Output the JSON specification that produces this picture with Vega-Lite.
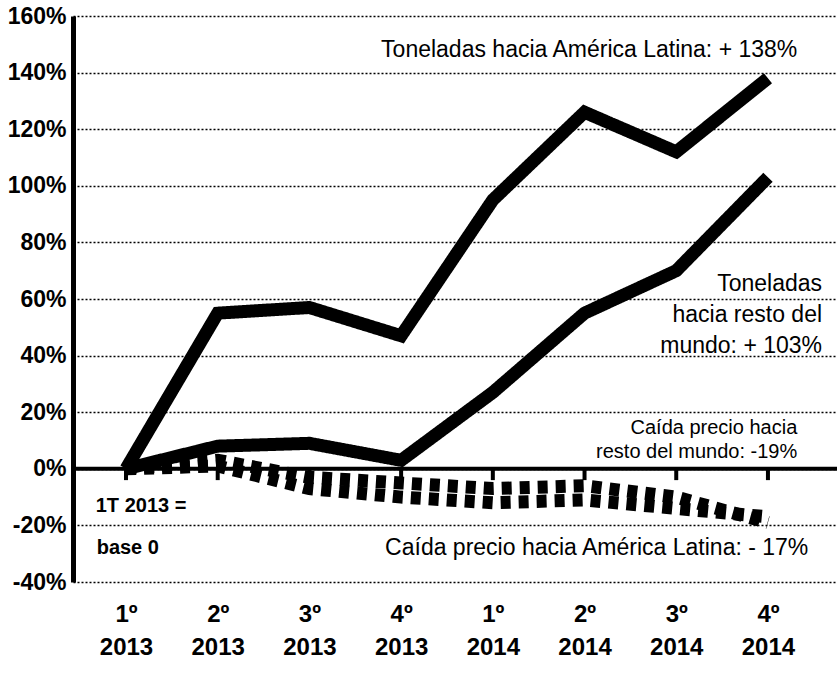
{
  "$schema": "https://vega.github.io/schema/vega-lite/v6.json",
  "width": 764,
  "height": 566,
  "autosize": {"type": "none"},
  "padding": {"left": 73, "top": 16, "right": 0, "bottom": 95},
  "background": "white",
  "config": {
    "view": {"stroke": null},
    "font": "Liberation Sans"
  },
  "datasets": {
    "series": [
      {"q": 0, "serie": "Toneladas hacia América Latina", "tipo": "solid", "valor": 0},
      {"q": 1, "serie": "Toneladas hacia América Latina", "tipo": "solid", "valor": 55},
      {"q": 2, "serie": "Toneladas hacia América Latina", "tipo": "solid", "valor": 57},
      {"q": 3, "serie": "Toneladas hacia América Latina", "tipo": "solid", "valor": 47},
      {"q": 4, "serie": "Toneladas hacia América Latina", "tipo": "solid", "valor": 95},
      {"q": 5, "serie": "Toneladas hacia América Latina", "tipo": "solid", "valor": 126},
      {"q": 6, "serie": "Toneladas hacia América Latina", "tipo": "solid", "valor": 112},
      {"q": 7, "serie": "Toneladas hacia América Latina", "tipo": "solid", "valor": 138},
      {"q": 0, "serie": "Toneladas hacia resto del mundo", "tipo": "solid", "valor": 0},
      {"q": 1, "serie": "Toneladas hacia resto del mundo", "tipo": "solid", "valor": 8},
      {"q": 2, "serie": "Toneladas hacia resto del mundo", "tipo": "solid", "valor": 9},
      {"q": 3, "serie": "Toneladas hacia resto del mundo", "tipo": "solid", "valor": 3},
      {"q": 4, "serie": "Toneladas hacia resto del mundo", "tipo": "solid", "valor": 27},
      {"q": 5, "serie": "Toneladas hacia resto del mundo", "tipo": "solid", "valor": 55},
      {"q": 6, "serie": "Toneladas hacia resto del mundo", "tipo": "solid", "valor": 70},
      {"q": 7, "serie": "Toneladas hacia resto del mundo", "tipo": "solid", "valor": 103},
      {"q": 0, "serie": "Precio hacia resto del mundo", "tipo": "dashed", "valor": 0},
      {"q": 1, "serie": "Precio hacia resto del mundo", "tipo": "dashed", "valor": 3},
      {"q": 2, "serie": "Precio hacia resto del mundo", "tipo": "dashed", "valor": -3},
      {"q": 3, "serie": "Precio hacia resto del mundo", "tipo": "dashed", "valor": -5},
      {"q": 4, "serie": "Precio hacia resto del mundo", "tipo": "dashed", "valor": -7},
      {"q": 5, "serie": "Precio hacia resto del mundo", "tipo": "dashed", "valor": -6},
      {"q": 6, "serie": "Precio hacia resto del mundo", "tipo": "dashed", "valor": -10},
      {"q": 7, "serie": "Precio hacia resto del mundo", "tipo": "dashed", "valor": -19},
      {"q": 0, "serie": "Precio hacia América Latina", "tipo": "dashed", "valor": 0},
      {"q": 1, "serie": "Precio hacia América Latina", "tipo": "dashed", "valor": 1},
      {"q": 2, "serie": "Precio hacia América Latina", "tipo": "dashed", "valor": -7},
      {"q": 3, "serie": "Precio hacia América Latina", "tipo": "dashed", "valor": -10},
      {"q": 4, "serie": "Precio hacia América Latina", "tipo": "dashed", "valor": -12},
      {"q": 5, "serie": "Precio hacia América Latina", "tipo": "dashed", "valor": -11},
      {"q": 6, "serie": "Precio hacia América Latina", "tipo": "dashed", "valor": -14},
      {"q": 7, "serie": "Precio hacia América Latina", "tipo": "dashed", "valor": -17}
    ],
    "ticks": [
      {"q": 0, "y1": 0, "y2": -4},
      {"q": 1, "y1": 0, "y2": -4},
      {"q": 2, "y1": 0, "y2": -4},
      {"q": 3, "y1": 0, "y2": -4},
      {"q": 4, "y1": 0, "y2": -4},
      {"q": 5, "y1": 0, "y2": -4},
      {"q": 6, "y1": 0, "y2": -4},
      {"q": 7, "y1": 0, "y2": -4}
    ],
    "notasGrandes": [
      {"x": 7.32, "y": 148, "texto": "Toneladas hacia América Latina: + 138%"},
      {"x": 7.59, "y": 65.2, "texto": "Toneladas"},
      {"x": 7.59, "y": 54.2, "texto": "hacia resto del"},
      {"x": 7.59, "y": 43.5, "texto": "mundo: + 103%"},
      {"x": 7.44, "y": -28, "texto": "Caída precio  hacia  América  Latina: - 17%"}
    ],
    "notasChicas": [
      {"x": 7.32, "y": 14.4, "texto": "Caída precio hacia"},
      {"x": 7.32, "y": 5.9, "texto": "resto del mundo: -19%"}
    ],
    "notasBase": [
      {"x": -0.33, "y": -13, "texto": "1T 2013 ="},
      {"x": -0.32, "y": -28, "texto": "base 0"}
    ]
  },
  "layer": [
    {
      "data": {"name": "ticks"},
      "mark": {"type": "rule", "color": "black", "strokeWidth": 4},
      "encoding": {
        "x": {
          "field": "q",
          "type": "quantitative",
          "scale": {"domain": [-0.578, 7.753], "nice": false, "zero": false},
          "axis": {
            "values": [0, 1, 2, 3, 4, 5, 6, 7],
            "title": null,
            "domain": false,
            "ticks": false,
            "grid": false,
            "labelExpr": "[['1º','2º','3º','4º'][datum.value % 4], datum.value < 4 ? '2013' : '2014']",
            "labelFont": "Liberation Sans",
            "labelFontSize": 24,
            "labelFontWeight": "bold",
            "labelColor": "black",
            "labelPadding": 20,
            "labelLineHeight": 33,
            "labelBaseline": "top"
          }
        },
        "y": {
          "field": "y1",
          "type": "quantitative",
          "scale": {"domain": [-40, 160], "nice": false},
          "axis": {
            "values": [-40, -20, 0, 20, 40, 60, 80, 100, 120, 140, 160],
            "title": null,
            "labelExpr": "datum.value + '%'",
            "labelFont": "Liberation Sans",
            "labelFontSize": 23,
            "labelFontWeight": "bold",
            "labelColor": "black",
            "labelPadding": 7,
            "ticks": false,
            "domainColor": "black",
            "domainWidth": 5,
            "grid": true,
            "gridColor": "black",
            "gridWidth": 1.5,
            "gridDash": [2, 2],
            "gridOpacity": 1
          }
        },
        "y2": {"field": "y2"}
      }
    },
    {
      "data": {"values": [{"cero": 0}]},
      "mark": {"type": "rule", "color": "black", "strokeWidth": 4},
      "encoding": {
        "y": {"field": "cero", "type": "quantitative"}
      }
    },
    {
      "data": {"name": "series"},
      "mark": {"type": "line", "color": "black", "strokeWidth": 13, "strokeJoin": "miter", "strokeCap": "butt"},
      "encoding": {
        "x": {"field": "q", "type": "quantitative"},
        "y": {"field": "valor", "type": "quantitative"},
        "detail": {"field": "serie"},
        "strokeDash": {
          "field": "tipo",
          "type": "nominal",
          "scale": {"domain": ["solid", "dashed"], "range": [[1, 0], [10, 8]]},
          "legend": null
        }
      }
    },
    {
      "data": {"name": "notasGrandes"},
      "mark": {"type": "text", "align": "right", "baseline": "middle", "fontSize": 23, "color": "black", "font": "Liberation Sans"},
      "encoding": {
        "x": {"field": "x", "type": "quantitative"},
        "y": {"field": "y", "type": "quantitative"},
        "text": {"field": "texto"}
      }
    },
    {
      "data": {"name": "notasChicas"},
      "mark": {"type": "text", "align": "right", "baseline": "middle", "fontSize": 20, "color": "black", "font": "Liberation Sans"},
      "encoding": {
        "x": {"field": "x", "type": "quantitative"},
        "y": {"field": "y", "type": "quantitative"},
        "text": {"field": "texto"}
      }
    },
    {
      "data": {"name": "notasBase"},
      "mark": {"type": "text", "align": "left", "baseline": "middle", "fontSize": 20, "fontWeight": "bold", "color": "black", "font": "Liberation Sans"},
      "encoding": {
        "x": {"field": "x", "type": "quantitative"},
        "y": {"field": "y", "type": "quantitative"},
        "text": {"field": "texto"}
      }
    }
  ]
}
